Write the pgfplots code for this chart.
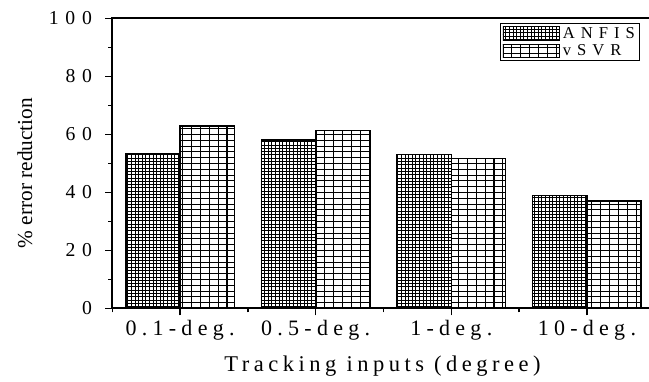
\documentclass[border=0pt]{standalone}
\usepackage{fontspec}
\setmainfont{Liberation Serif}
\newfontfamily\xtickfont[LetterSpace=24]{Liberation Serif}
\newfontfamily\ytickfont[LetterSpace=35]{Liberation Serif}
\newfontfamily\labelfont[LetterSpace=20]{Liberation Serif}
\newfontfamily\legfont[LetterSpace=36]{Liberation Serif}
\usepackage{pgfplots}
\pgfplotsset{compat=1.18}
\usetikzlibrary{patterns}

% dense grid for ANFIS
\pgfdeclarepatternformonly{anfisgrid}{\pgfpoint{-0.5pt}{-0.5pt}}{\pgfpoint{4.1pt}{3.8pt}}{\pgfpoint{3.6pt}{3.3pt}}{%
  \pgfsetlinewidth{1pt}%
  \pgfpathmoveto{\pgfpoint{1.8pt}{-0.1pt}}\pgfpathlineto{\pgfpoint{1.8pt}{3.4pt}}%
  \pgfpathmoveto{\pgfpoint{-0.1pt}{1.65pt}}\pgfpathlineto{\pgfpoint{3.7pt}{1.65pt}}%
  \pgfusepath{stroke}}
% coarse grid for vSVR
\pgfdeclarepatternformonly{svrgrid}{\pgfpoint{-0.5pt}{-0.5pt}}{\pgfpoint{9.4pt}{6.3pt}}{\pgfpoint{8.9pt}{5.8pt}}{%
  \pgfsetlinewidth{1.1pt}%
  \pgfpathmoveto{\pgfpoint{4.45pt}{-0.1pt}}\pgfpathlineto{\pgfpoint{4.45pt}{5.9pt}}%
  \pgfpathmoveto{\pgfpoint{-0.1pt}{2.9pt}}\pgfpathlineto{\pgfpoint{9pt}{2.9pt}}%
  \pgfusepath{stroke}}

\begin{document}
\begin{tikzpicture}
\useasboundingbox (0,0) rectangle (649pt,381pt);
\clip (0,0) rectangle (649pt,381pt);
\begin{axis}[
  at={(112.3pt,72.7pt)}, anchor=south west,
  scale only axis, width=542.4pt, height=290pt,
  xmin=-0.5, xmax=3.5, ymin=0, ymax=100,
  xtick={0,1,2,3},
  xticklabels={0.1-deg.,0.5-deg.,1-deg.,10-deg.},
  minor xtick={-0.5,0.5,1.5,2.5},
  ytick={0,20,40,60,80,100},
  yticklabels={0,20,40,60,80,100},
  minor ytick={10,30,50,70,90},
  xtick pos=bottom, ytick pos=left,
  tick align=outside,
  major tick length=7pt, minor tick length=4pt,
  tick style={line width=1.4pt, black},
  axis line style={line width=1.8pt},
  xticklabel style={font=\fontsize{22}{25}\xtickfont, anchor=base, inner sep=0pt, yshift=-20.4pt},
  yticklabel style={font=\fontsize{19.7}{23}\ytickfont, anchor=east, inner sep=0pt, xshift=-13pt},
  xlabel={Tracking inputs (degree)},
  xlabel style={at={(axis description cs:0.4982,-0.2186)}, anchor=base, inner sep=0pt, font=\fontsize{22.5}{26}\labelfont},
  ylabel={\% error reduction},
  ylabel style={at={(axis description cs:-0.148,0.4666)}, anchor=base, inner sep=0pt, font=\fontsize{21.3}{24}\selectfont},
  ybar, bar width=54.24pt,
  legend style={at={(rel axis cs:0.7148,0.9828)}, anchor=north west,
    draw=black, line width=1pt, inner xsep=2pt, inner ysep=1pt, row sep=0pt,
    font=\fontsize{16.6}{19}\legfont, cells={anchor=west},
    nodes={inner ysep=2.5pt, inner xsep=2.8pt}},
  legend image code/.code={\draw[#1, line width=0.9pt] (0pt,-6.8pt) rectangle (56.7pt,6.8pt);},
]
\addplot[bar shift=-27.12pt, draw=black, line width=1.4pt, pattern=anfisgrid]
  coordinates {(0,53.4) (1,58.0) (2,53.0) (3,38.8)};
\addlegendentry{ANFIS}
\addplot[bar shift=27.12pt, draw=black, line width=1.4pt, pattern=svrgrid]
  coordinates {(0,62.8) (1,61.3) (2,51.6) (3,37.0)};
\addlegendentry{vSVR}
\end{axis}
\end{tikzpicture}
\end{document}
